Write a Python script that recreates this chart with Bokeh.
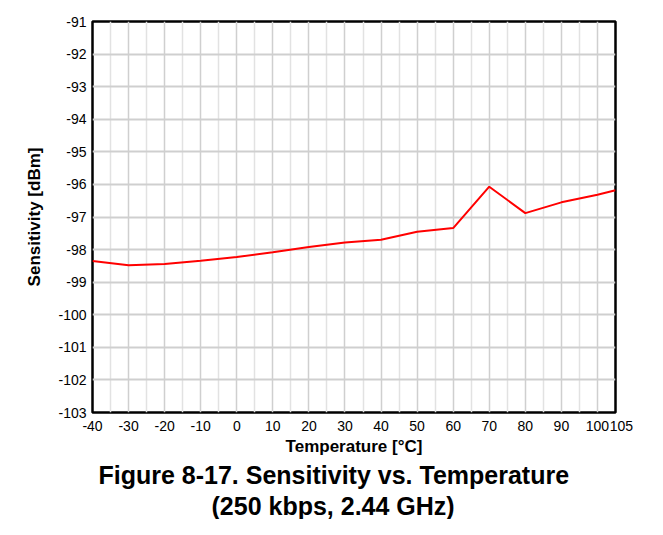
from bokeh.plotting import figure
from bokeh.models import FixedTicker, Range1d, Title
from bokeh.embed import file_html
from bokeh.resources import INLINE

temps = [-40, -30, -20, -10, 0, 10, 20, 30, 40, 50, 60, 70, 80, 90, 100, 105]
sens = [-98.35, -98.48, -98.44, -98.34, -98.23, -98.08, -97.92, -97.78, -97.70,
        -97.45, -97.34, -96.07, -96.88, -96.55, -96.32, -96.18]
x_ticks = [-40, -30, -20, -10, 0, 10, 20, 30, 40, 50, 60, 70, 80, 90, 100, 105]
x_tick_labels = ["-40", "-30", "-20", "-10", "0", "10", "20", "30", "40", "50",
                 "60", "70", "80", "90", "100", "\u00a0\u00a0\u00a0105"]
x_minor = [-35, -25, -15, -5, 5, 15, 25, 35, 45, 55, 65, 75, 85, 95]
y_ticks = [-103, -102, -101, -100, -99, -98, -97, -96, -95, -94, -93, -92, -91]
y_tick_labels = ["-103", "-102", "-101", "-100", "-99", "-98", "-97", "-96",
                 "-95", "-94", "-93", "-92", "-91"]

FONT = "Liberation Sans"

p = figure(width=647, height=519, output_backend="svg", toolbar_location=None,
           x_range=Range1d(-40, 105), y_range=Range1d(-103, -91),
           min_border_left=92, min_border_right=32, min_border_top=21,
           min_border_bottom=20)
p.background_fill_color = "white"
p.border_fill_color = "white"
p.outline_line_color = "black"
p.outline_line_width = 2.5

p.xaxis.ticker = FixedTicker(ticks=x_ticks, minor_ticks=x_minor)
p.yaxis.ticker = FixedTicker(ticks=y_ticks)
p.xaxis.major_label_overrides = dict(zip(x_ticks, x_tick_labels))
p.yaxis.major_label_overrides = dict(zip(y_ticks, y_tick_labels))
for ax in (p.xaxis, p.yaxis):
    ax.axis_line_color = None
    ax.major_tick_line_color = None
    ax.minor_tick_line_color = None
    ax.major_tick_out = 0
    ax.major_tick_in = 0
    ax.minor_tick_out = 0
    ax.major_label_text_font = FONT
    ax.major_label_text_font_size = "14px"
    ax.major_label_text_color = "black"
    ax.axis_label_text_font = FONT
    ax.axis_label_text_font_size = "17px"
    ax.axis_label_text_font_style = "bold"
    ax.axis_label_text_color = "black"

p.xaxis.axis_label = "Temperature [°C]"
p.yaxis.axis_label = "Sensitivity [dBm]"
p.xaxis.major_label_standoff = 5
p.yaxis.major_label_standoff = 6
p.xaxis.axis_label_standoff = 0
p.yaxis.axis_label_standoff = 11

p.xgrid.grid_line_color = "#cfcfcf"
p.xgrid.grid_line_width = 1.5
p.xgrid.minor_grid_line_color = "#e2e2e2"
p.xgrid.minor_grid_line_width = 1.5
p.ygrid.grid_line_color = "#cfcfcf"
p.ygrid.grid_line_width = 2

p.line(temps, sens, line_color="#ff0000", line_width=2)

t1 = Title(text="Figure 8-17. Sensitivity vs. Temperature", align="left",
           offset=6, text_font=FONT, text_font_size="25px",
           text_font_style="bold", text_color="black", standoff=1)
t2 = Title(text="(250 kbps, 2.44 GHz)", align="left", offset=119,
           text_font=FONT, text_font_size="25px", text_font_style="bold",
           text_color="black", standoff=0)
p.add_layout(t1, "below")
p.add_layout(t2, "below")

open("out.html", "w").write(file_html(p, INLINE))
